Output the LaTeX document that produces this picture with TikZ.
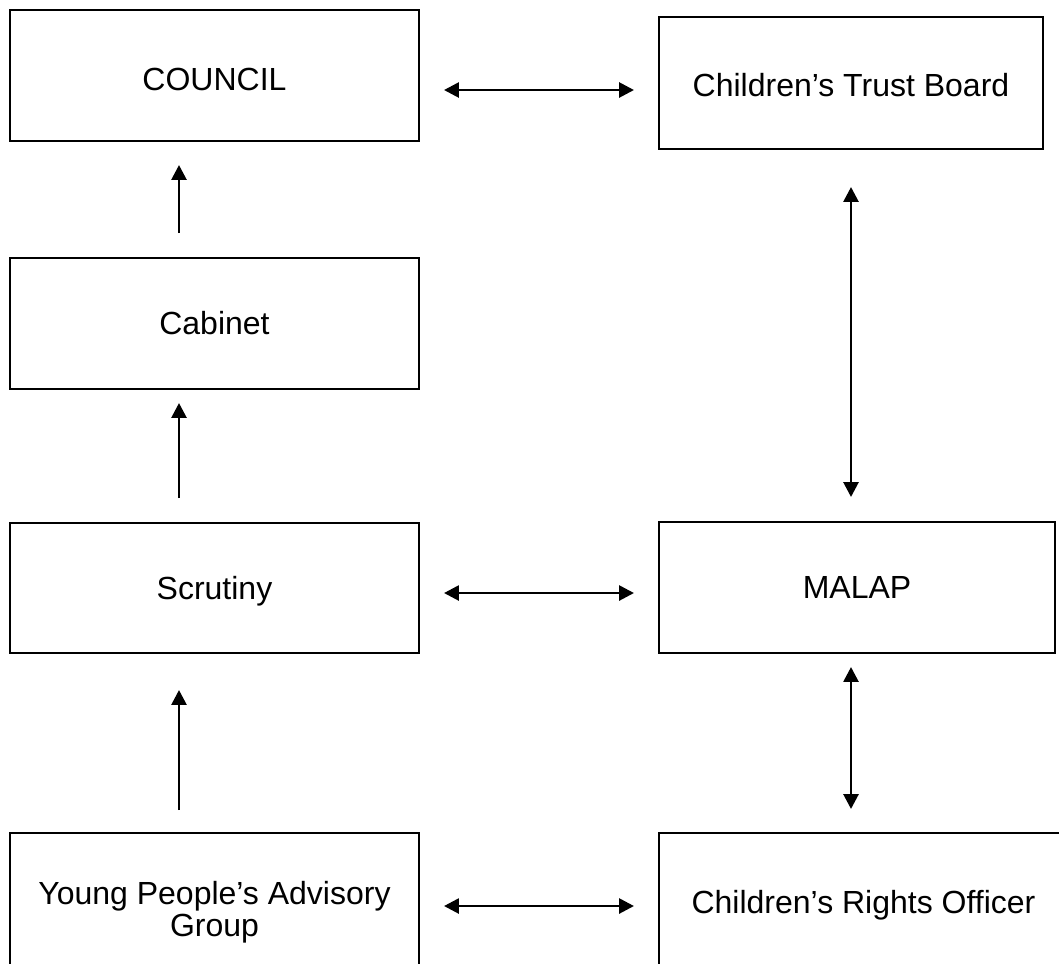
\documentclass[tikz,border=0pt]{standalone}
\usepackage{fontspec}
\setmainfont{Liberation Sans}
\usetikzlibrary{arrows.meta}
\begin{document}
\begin{tikzpicture}[x=0.375pt,y=-0.375pt,
  box/.style={draw, line width=0.75pt, inner sep=0pt, text height=8.6pt, text depth=0pt,
    font=\fontsize{12}{12.2}\selectfont, align=center},
  leftbox/.style={box, minimum width=153.4pt},
  rightbox/.style={box, minimum width=144pt},
  uparrow/.style={line width=1.05pt, -{Triangle[length=5.6pt,width=5.6pt]}},
  twoway/.style={line width=1.05pt, {Triangle[length=5.6pt,width=5.6pt]}-{Triangle[length=5.6pt,width=5.6pt]}}]
\useasboundingbox (0,0) rectangle (1059,963);
\clip (0,0) rectangle (1059,963);

% boxes
\node[leftbox, minimum height=49.1pt, text height=11.2pt] (council) at (214.5,75.5) {COUNCIL};
\node[rightbox, minimum height=49.5pt, text height=10pt] (ctb) at (851,83) {Children’s Trust Board};
\node[leftbox, minimum height=49.1pt] (cabinet) at (214.5,323.5) {Cabinet};
\node[leftbox, minimum height=48.8pt] (scrutiny) at (214.5,588) {Scrutiny};
\node[box, minimum width=148.5pt, minimum height=49.1pt] (malap) at (857,587.5) {MALAP};
\node[leftbox, minimum height=81.4pt, text depth=12.2pt] (ypag) at (214.5,941.5) {Young People’s Advisory\\Group};
\node[box, minimum width=153.4pt, minimum height=51.8pt] (cro) at (863.5,902) {Children’s Rights Officer};

% arrow end points
\coordinate (h1a) at (444,90);   \coordinate (h1b) at (634,90);
\coordinate (h2a) at (444,593);  \coordinate (h2b) at (634,593);
\coordinate (h3a) at (444,906);  \coordinate (h3b) at (634,906);
\coordinate (v1a) at (179,233);  \coordinate (v1b) at (179,165);
\coordinate (v2a) at (179,498);  \coordinate (v2b) at (179,403);
\coordinate (v3a) at (179,810);  \coordinate (v3b) at (179,690);
\coordinate (r1a) at (851,187);  \coordinate (r1b) at (851,497);
\coordinate (r2a) at (851,667);  \coordinate (r2b) at (851,809);

% connectors
\draw[twoway] (h1a) -- (h1b);
\draw[twoway] (h2a) -- (h2b);
\draw[twoway] (h3a) -- (h3b);
\draw[uparrow] (v1a) -- (v1b);
\draw[uparrow] (v2a) -- (v2b);
\draw[uparrow] (v3a) -- (v3b);
\draw[twoway] (r1a) -- (r1b);
\draw[twoway] (r2a) -- (r2b);
\end{tikzpicture}
\end{document}
